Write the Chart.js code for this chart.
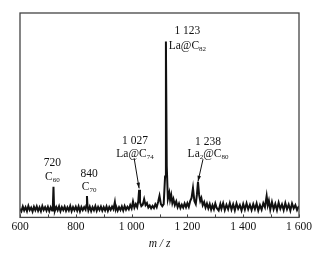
<!DOCTYPE html>
<html lang="en">
<head>
  <meta charset="UTF-8">
  <title>Mass spectrum</title>
  <script src="https://cdn.jsdelivr.net/npm/chart.js"></script>
  <style>
    html, body { margin: 0; padding: 0; background: #fff; }
    #wrap { width: 321px; height: 253px; }
  </style>
</head>
<body>
  <div id="wrap"><canvas id="spectrum"></canvas></div>
  <script>
    // m/z values and relative intensity
    const mz = [
      600, 605, 610, 615, 620, 625, 630, 635, 640, 645, 650, 655, 660, 665, 670, 675, 680, 685, 690, 695,
      700, 705, 710, 715, 718, 720, 722, 725, 730, 735, 740, 745, 750, 755, 760, 765, 770, 775, 780, 785, 790, 795,
      800, 805, 810, 815, 820, 825, 830, 835, 838, 840, 842, 845, 850, 855, 860, 865, 870, 875, 880, 885, 890, 895,
      900, 905, 910, 915, 920, 925, 930, 935, 940, 943, 945, 950, 955, 960, 965, 970, 975, 980, 985, 990, 995,
      1000, 1005, 1010, 1015, 1020, 1024, 1027, 1030, 1035, 1040, 1045, 1050, 1055, 1060, 1065, 1070, 1075, 1080, 1085, 1090, 1095,
      1100, 1105, 1110, 1115, 1120, 1123, 1126, 1130, 1135, 1138, 1142, 1146, 1150, 1155, 1160, 1165, 1170, 1175, 1180, 1185, 1190, 1195,
      1200, 1205, 1210, 1215, 1220, 1225, 1230, 1234, 1238, 1242, 1246, 1250, 1255, 1260, 1265, 1270, 1275, 1280, 1285, 1290, 1295,
      1300, 1305, 1312, 1318, 1322, 1328, 1334, 1340, 1346, 1352, 1358, 1364, 1370, 1376, 1382, 1388, 1394,
      1400, 1406, 1412, 1418, 1424, 1430, 1436, 1442, 1448, 1454, 1460, 1466, 1472, 1478, 1484, 1488, 1492, 1497,
      1503, 1509, 1515, 1521, 1527, 1533, 1539, 1545, 1551, 1557, 1563, 1569, 1575, 1581, 1587, 1593, 1600
    ];
    const intensity = [
      4.2, 3.0, 5.3, 3.4, 5.0, 3.1, 5.6, 3.6, 4.8, 2.9, 5.2, 3.5, 5.4, 3.2, 4.9, 3.0, 5.5, 3.6, 5.0, 3.3,
      5.2, 3.1, 5.0, 3.4, 6.5, 15.0, 5.5, 3.2, 5.1, 3.5, 5.4, 3.0, 5.0, 3.6, 5.3, 3.2, 4.9, 3.4, 5.6, 3.1, 5.0, 3.5,
      5.2, 3.3, 5.4, 3.0, 5.1, 3.6, 5.0, 3.8, 6.0, 10.5, 5.5, 3.4, 5.3, 3.1, 5.0, 3.5, 5.5, 3.2, 5.1, 3.6, 5.3, 3.3,
      5.0, 3.4, 5.4, 3.2, 5.1, 3.7, 5.3, 4.0, 7.5, 4.2, 5.2, 3.3, 5.0, 3.6, 5.4, 3.4, 5.6, 3.8, 5.2, 4.0, 6.0,
      4.4, 7.8, 4.8, 6.5, 5.0, 8.0, 13.5, 7.5, 5.5, 6.2, 9.0, 6.0, 7.0, 4.8, 5.8, 4.4, 5.6, 4.6, 6.4, 5.0, 7.5,
      10.5, 6.5, 5.5, 6.5, 20.0, 86.0, 25.0, 9.0, 12.0, 8.5, 11.0, 7.0, 9.0, 6.0, 7.8, 5.0, 6.8, 4.6, 6.2, 4.8, 6.8, 5.0,
      7.0, 5.2, 8.0, 9.5, 14.3, 8.0, 6.5, 11.0, 17.4, 11.0, 8.0, 9.5, 6.0, 7.5, 4.8, 6.8, 4.4, 6.5, 3.8, 6.0, 4.0,
      6.8, 4.6, 3.4, 6.5, 4.2, 6.9, 3.6, 6.2, 4.0, 7.0, 3.8, 6.4, 3.5, 6.8, 4.2, 6.0, 3.4,
      6.6, 3.8, 6.9, 4.0, 6.2, 3.6, 6.5, 4.0, 6.8, 3.4, 6.0, 3.8, 7.0, 5.0, 10.5, 6.0, 8.2, 3.8,
      7.5, 4.0, 6.6, 3.6, 7.2, 4.2, 6.4, 3.6, 7.0, 4.0, 6.3, 3.4, 6.8, 4.4, 6.0, 3.6, 5.6
    ];

    // peak annotations: text parts ([text, isSubscript]), anchor m/z and intensity of each line
    const labels = [
      { top: '720', bottom: [['C', 0], ['60', 1]], x: 716, yTop: 26.6, yBot: 19.8 },
      { top: '840', bottom: [['C', 0], ['70', 1]], x: 848, yTop: 21.2, yBot: 14.9 },
      { top: '1 027', bottom: [['La@C', 0], ['74', 1]], x: 1012, yTop: 37.3, yBot: 31.0 },
      { top: '1 123', bottom: [['La@C', 0], ['82', 1]], x: 1200, yTop: 91.2, yBot: 84.0 },
      { top: '1 238', bottom: [['La', 0], ['2', 1], ['@C', 0], ['80', 1]], x: 1274, yTop: 36.8, yBot: 31.0 }
    ];
    const arrows = [
      { from: [1009, 29.0], to: [1027, 14.2] },
      { from: [1256, 28.5], to: [1238, 17.6] }
    ];

    const serif = '"Liberation Serif", "DejaVu Serif", serif';

    const decor = {
      id: 'decor',
      afterDraw(chart) {
        const { ctx, chartArea: a, scales: { x, y } } = chart;
        ctx.save();
        // frame
        ctx.strokeStyle = '#444';
        ctx.lineWidth = 1.3;
        ctx.strokeRect(a.left, a.top, a.right - a.left, a.bottom - a.top);
        // inner ticks every 100
        ctx.lineWidth = 1;
        x.ticks.forEach(t => {
          const px = Math.round(x.getPixelForValue(t.value)) + 0.5;
          ctx.beginPath();
          ctx.moveTo(px, a.bottom);
          ctx.lineTo(px, a.bottom - 3);
          ctx.stroke();
        });
        // labels
        ctx.fillStyle = '#111';
        ctx.textBaseline = 'middle';
        labels.forEach(l => {
          const cx = x.getPixelForValue(l.x);
          ctx.font = '11.5px ' + serif;
          ctx.textAlign = 'center';
          ctx.fillText(l.top, cx, y.getPixelForValue(l.yTop));
          // second line with subscripts
          let w = 0;
          l.bottom.forEach(([s, sub]) => {
            ctx.font = (sub ? '7px ' : '11.5px ') + serif;
            w += ctx.measureText(s).width;
          });
          let px = cx - w / 2;
          const py = y.getPixelForValue(l.yBot);
          ctx.textAlign = 'left';
          l.bottom.forEach(([s, sub]) => {
            ctx.font = (sub ? '7px ' : '11.5px ') + serif;
            ctx.fillText(s, px, sub ? py + 3 : py);
            px += ctx.measureText(s).width;
          });
        });
        // arrows
        ctx.strokeStyle = '#111';
        arrows.forEach(ar => {
          const x0 = x.getPixelForValue(ar.from[0]), y0 = y.getPixelForValue(ar.from[1]);
          const x1 = x.getPixelForValue(ar.to[0]), y1 = y.getPixelForValue(ar.to[1]);
          const ang = Math.atan2(y1 - y0, x1 - x0);
          ctx.beginPath();
          ctx.moveTo(x0, y0);
          ctx.lineTo(x1, y1);
          ctx.stroke();
          ctx.beginPath();
          ctx.moveTo(x1, y1);
          ctx.lineTo(x1 - 6 * Math.cos(ang - 0.3), y1 - 6 * Math.sin(ang - 0.3));
          ctx.lineTo(x1 - 6 * Math.cos(ang + 0.3), y1 - 6 * Math.sin(ang + 0.3));
          ctx.closePath();
          ctx.fill();
        });
        ctx.restore();
      }
    };

    new Chart(document.getElementById('spectrum'), {
      type: 'line',
      data: {
        datasets: [{
          data: mz.map((m, i) => ({ x: m, y: intensity[i] })),
          borderColor: '#111',
          borderWidth: 2,
          pointRadius: 0,
          tension: 0
        }]
      },
      options: {
        responsive: true,
        maintainAspectRatio: false,
        animation: false,
        layout: { padding: { left: 20, right: 22, top: 13, bottom: 0 } },
        plugins: { legend: { display: false }, tooltip: { enabled: false } },
        scales: {
          x: {
            type: 'linear',
            min: 600,
            max: 1600,
            grid: { display: false, drawTicks: false },
            border: { display: false },
            ticks: {
              stepSize: 100,
              autoSkip: false,
              maxRotation: 0,
              padding: 3,
              color: '#111',
              font: { family: serif, size: 11.5 },
              callback: v => v % 200 !== 0 ? '' :
                (v >= 1000 ? Math.floor(v / 1000) + ' ' + String(v % 1000).padStart(3, '0') : String(v))
            },
            title: {
              display: true,
              text: 'm / z',
              color: '#111',
              padding: { top: 0, bottom: 2 },
              font: { family: serif, size: 11.5, style: 'italic' }
            }
          },
          y: { display: false, min: 0, max: 100 }
        }
      },
      plugins: [decor]
    });
  </script>
</body>
</html>
